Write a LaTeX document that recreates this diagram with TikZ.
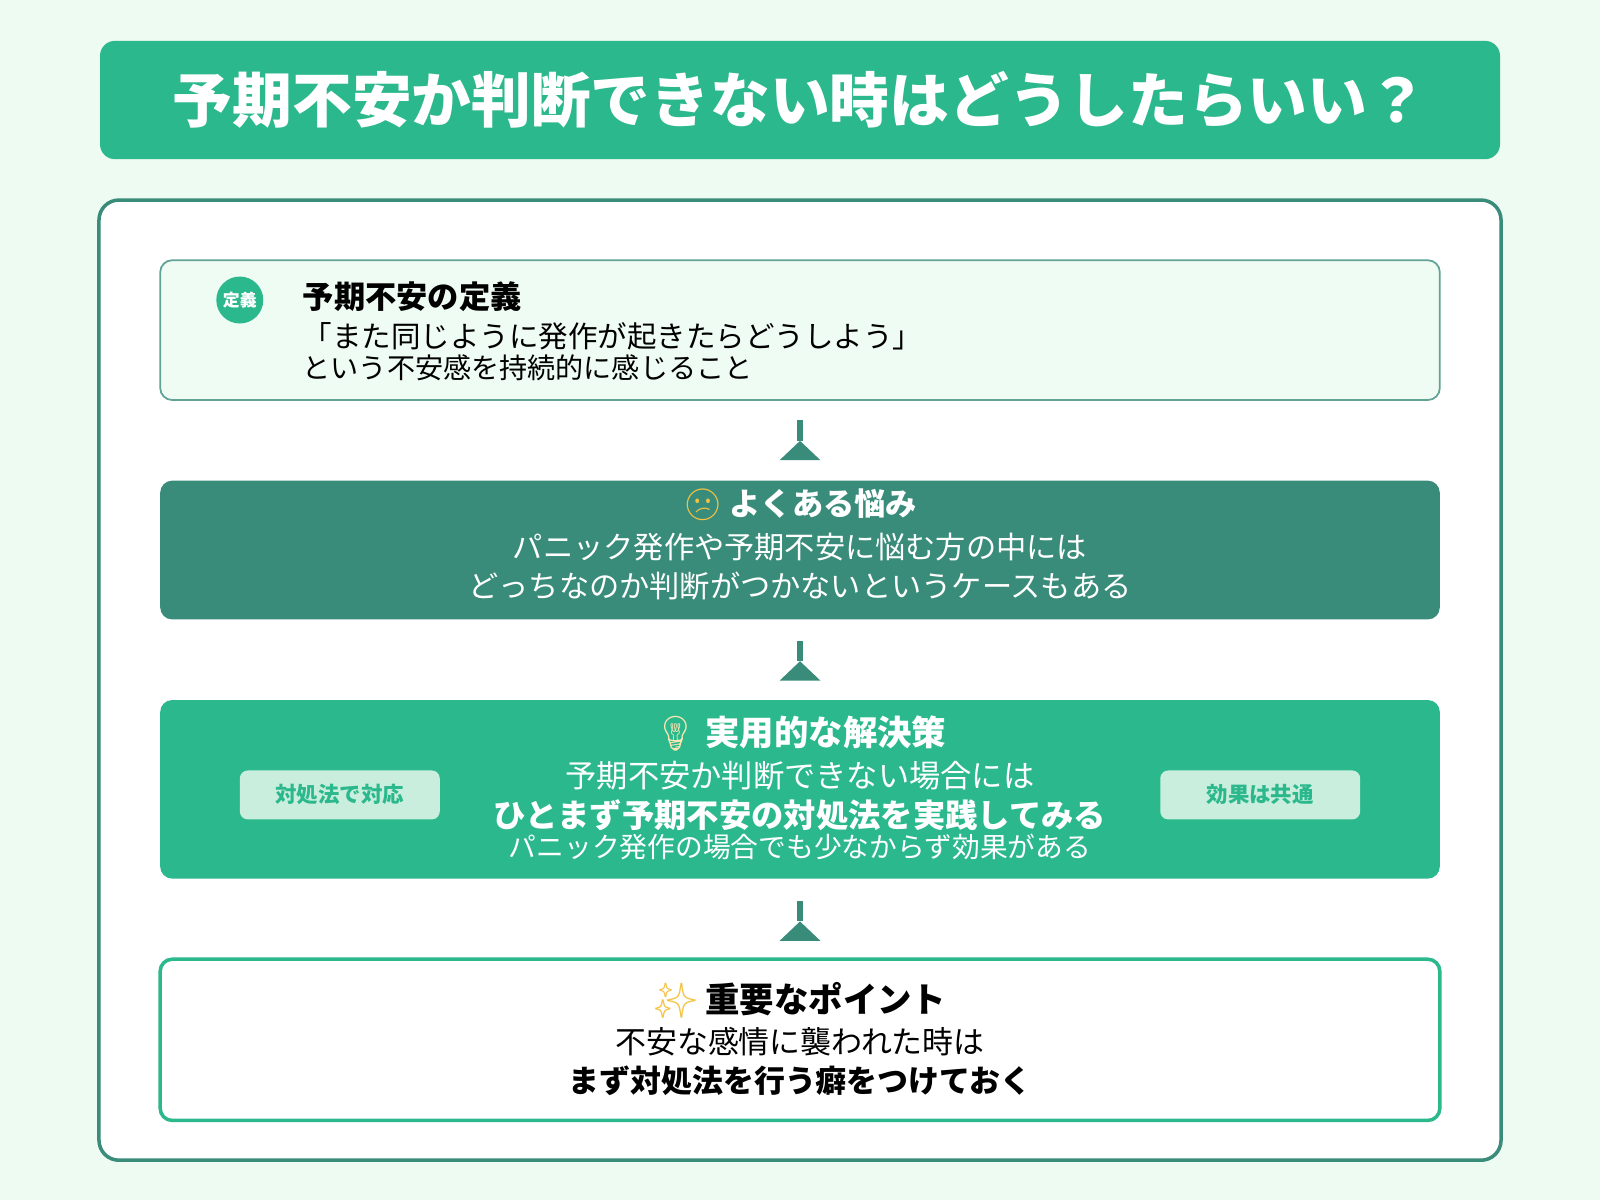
\documentclass[tikz,border=0pt]{standalone}
\usepackage{fontspec}
\setmainfont{Noto Sans CJK JP}
\newfontfamily\emojifont{Noto Emoji}
\definecolor{bg}{HTML}{EEFBF2}
\definecolor{green}{HTML}{2BB88C}
\definecolor{dgreen}{HTML}{3A8C7A}
\definecolor{pale}{HTML}{EFFCF3}
\definecolor{tag}{HTML}{C9EEDD}
\definecolor{gold}{HTML}{F5C242}
\begin{document}
\begin{tikzpicture}[x=0.010204cm,y=-0.010204cm,
  txt/.style={inner sep=0pt,anchor=center},
  tagbox/.style={fill=tag,rounded corners=0.08cm,minimum width=2cm,minimum height=0.49cm,text=green,font=\fontsize{6.1}{7}\selectfont\bfseries,inner sep=0pt},
  conn/.style={fill=dgreen,draw=none}]
\fill[bg] (0,0) rectangle (1568,1176);
\useasboundingbox (0,0) rectangle (1568,1176);
% title
\fill[green,rounded corners=0.15cm] (98,40) rectangle (1470,156);
\node[txt,text=white,font=\fontsize{17}{19}\selectfont\bfseries] (title) at (784,98) {予期不安か判断できない時はどうしたらいい？};
% panel
\draw[dgreen,line width=1pt,fill=white,rounded corners=0.2cm] (97,196) rectangle (1471,1137);
% box1
\draw[draw=dgreen!80,line width=0.5pt,fill=pale,rounded corners=0.12cm] (157,255) rectangle (1411,392);
\node[circle,fill=green,minimum size=0.47cm,inner sep=0pt,text=white,font=\fontsize{4.8}{5}\selectfont\bfseries] (c1) at (235,294) {定義};
\node[txt,anchor=west,font=\fontsize{8.9}{10}\selectfont\bfseries] (t1) at (296,291) {予期不安の定義};
\node[txt,anchor=west,font=\fontsize{8.4}{9}\selectfont] (l1) at (296,330) {「また同じように発作が起きたらどうしよう」};
\node[txt,anchor=west,font=\fontsize{8}{9}\selectfont] (l2) at (296,360) {という不安感を持続的に感じること};
% box2
\fill[dgreen,rounded corners=0.12cm] (157,471) rectangle (1411,607);
\node[txt,text=white,font=\fontsize{8.9}{10}\selectfont\bfseries] (t2) at (784,495) {{\emojifont\color{gold}😕} よくある悩み};
\node[txt,text=white,font=\fontsize{8.6}{10}\selectfont] (m1) at (784,536) {パニック発作や予期不安に悩む方の中には};
\node[txt,text=white,font=\fontsize{8.6}{10}\selectfont] (m2) at (784,574) {どっちなのか判断がつかないというケースもある};
% box3
\fill[green,rounded corners=0.12cm] (157,686) rectangle (1411,861);
\node[txt,text=white,font=\fontsize{9.8}{11}\selectfont\bfseries] (t3) at (784,719) {{\emojifont\color{gold!40}💡} 実用的な解決策};
\node[txt,text=white,font=\fontsize{8.9}{10}\selectfont] (s1) at (784,760) {予期不安か判断できない場合には};
\node[txt,text=white,font=\fontsize{9.2}{10}\selectfont\bfseries] (s2) at (784,799) {ひとまず予期不安の対処法を実践してみる};
\node[txt,text=white,font=\fontsize{7.9}{9}\selectfont] (s3) at (784,830) {パニック発作の場合でも少なからず効果がある};
\node[tagbox] (tg1) at (333,779) {対処法で対応};
\node[tagbox] (tg2) at (1235,779) {効果は共通};
% box4
\draw[green,line width=1pt,fill=white,rounded corners=0.12cm] (157,940) rectangle (1411,1098);
\node[txt,font=\fontsize{9.8}{11}\selectfont\bfseries] (t4) at (784,980) {{\emojifont\color{gold}✨} 重要なポイント};
\node[txt,font=\fontsize{8.8}{10}\selectfont] (p1) at (784,1021) {不安な感情に襲われた時は};
\node[txt,font=\fontsize{8.8}{10}\selectfont\bfseries] (p2) at (784,1059) {まず対処法を行う癖をつけておく};
% connectors
\foreach \y in {412,628,883}{
  \fill[conn] (781,\y) rectangle (787,\y+20);
  \fill[conn] (764,\y+39) -- (784,\y+20) -- (804,\y+39) -- cycle;
}
\end{tikzpicture}
\end{document}
